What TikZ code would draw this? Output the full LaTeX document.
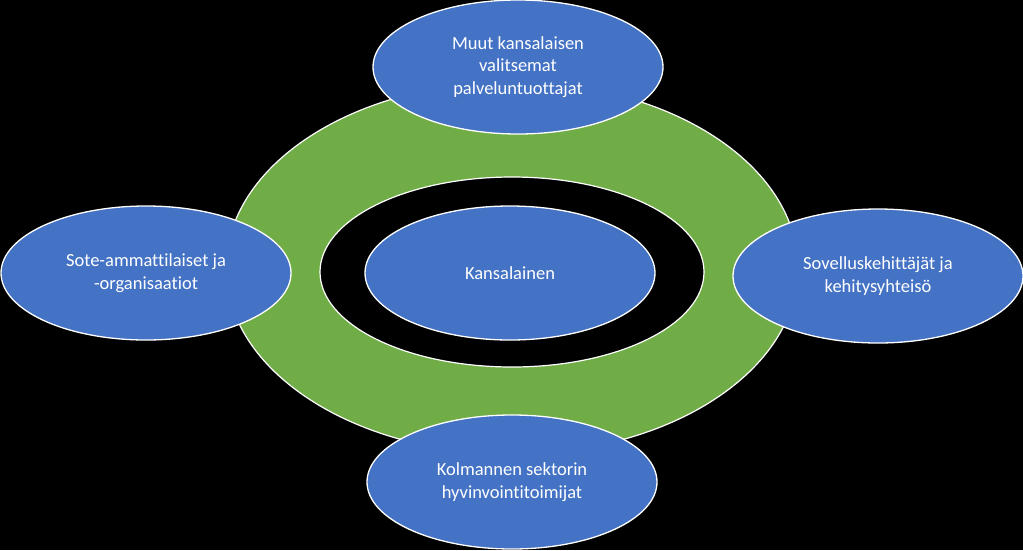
\documentclass[tikz,border=0pt]{standalone}
\usepackage{fontspec}
\setmainfont{Carlito}[Ligatures={NoCommon}]
\usetikzlibrary{shapes.geometric}
\definecolor{ppblue}{HTML}{4472C4}
\definecolor{ppgreen}{HTML}{70AD47}
\begin{document}
\begin{tikzpicture}[x=1pt,y=-1pt,
  bubble/.style={ellipse, fill=ppblue, draw=white, line width=1.3pt,
    minimum width=290pt, minimum height=134pt, inner sep=0pt,
    text=white, align=center, font=\fontsize{18.5}{22.5}\selectfont}]
\fill[black] (0,0) rectangle (1023,550);
\useasboundingbox (0,0) rectangle (1023,550);
% green donut
\fill[ppgreen, even odd rule] (512,268) ellipse [x radius=286pt, y radius=186pt]
  (512,272) ellipse [x radius=192pt, y radius=95pt];
\draw[white, line width=1.2pt] (512,268) ellipse [x radius=286pt, y radius=186pt];
\draw[white, line width=1.2pt] (512,272) ellipse [x radius=192pt, y radius=95pt];
% nodes
\node[bubble] (center) at (510,273) {Kansalainen};
\node[bubble] (top) at (518,67) {Muut kansalaisen\\valitsemat\\palveluntuottajat};
\node[bubble] (left) at (146,273) {Sote-ammattilaiset ja\\-organisaatiot};
\node[bubble] (right) at (878,276) {Sovelluskehittäjät ja\\kehitysyhteisö};
\node[bubble] (bottom) at (512,482) {Kolmannen sektorin\\hyvinvointitoimijat};
\end{tikzpicture}
\end{document}
